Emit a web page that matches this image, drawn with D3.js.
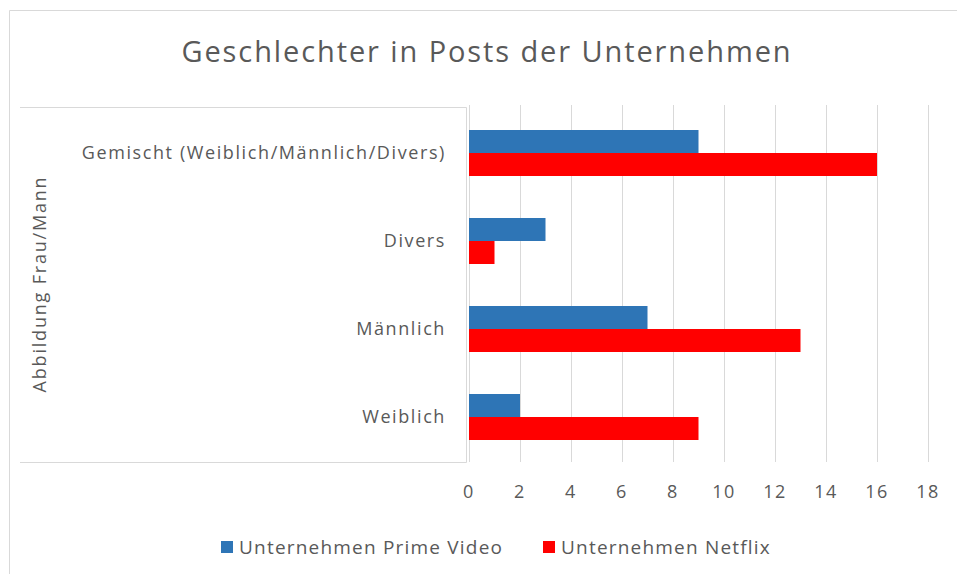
<!DOCTYPE html>
<html>
<head>
<meta charset="utf-8">
<script src="https://cdn.jsdelivr.net/npm/d3@7"></script>
<style>
  body { margin: 0; background: #fff; }
  svg text { font-family: "Open Sans", "Noto Sans", sans-serif; fill: #595959; }
</style>
</head>
<body>
<svg id="canvas" width="957" height="574"></svg>
<script>
let categories = ["Gemischt (Weiblich/Männlich/Divers)", "Divers", "Männlich", "Weiblich"]
let primeValues = [9, 3, 7, 2]
let netflixValues = [16, 1, 13, 9]
let seriesNames = ["Unternehmen Prime Video", "Unternehmen Netflix"]
let seriesColors = ["#2e75b6", "#ff0000"]
let xTicks = [0, 2, 4, 6, 8, 10, 12, 14, 16, 18]

let canvas = d3.select('#canvas')

// outer frame (top + left only visible)
canvas.append('path')
  .attr('d', 'M9.5,574 L9.5,10.5 L957,10.5')
  .attr('fill', 'none')
  .attr('stroke', '#d9d9d9')

// inner box around the category labels
canvas.append('path')
  .attr('d', 'M20,107.5 L466.5,107.5 L466.5,462.5 L20,462.5')
  .attr('fill', 'none')
  .attr('stroke', '#d9d9d9')

var x = d3.scaleLinear().domain([0, 18]).range([469, 928])
var y = d3.scaleBand().domain(categories).range([109, 461])
var inner = d3.scaleBand().domain([0, 1]).range([0, 46])

let plot = canvas.append('g')

// gridlines
plot.selectAll('line.grid')
  .data(xTicks)
  .enter()
  .append('line')
  .attr('class', 'grid')
  .attr('x1', d => Math.round(x(d)) + 0.5)
  .attr('x2', d => Math.round(x(d)) + 0.5)
  .attr('y1', 105)
  .attr('y2', 462)
  .attr('stroke', '#d9d9d9')

let rows = categories.map((c, i) => ({cat: c, vals: [primeValues[i], netflixValues[i]]}))

let groups = plot.selectAll('g.row')
  .data(rows)
  .enter()
  .append('g')
  .attr('class', 'row')
  .attr('transform', d => 'translate(0,' + (y(d.cat) + y.bandwidth() / 2 - 23) + ')')

groups.selectAll('rect')
  .data(d => d.vals)
  .enter()
  .append('rect')
  .attr('x', x(0))
  .attr('y', (d, i) => inner(i))
  .attr('width', d => x(d) - x(0))
  .attr('height', inner.bandwidth())
  .attr('fill', (d, i) => seriesColors[i])

// category labels
canvas.selectAll('text.cat')
  .data(categories)
  .enter()
  .append('text')
  .attr('class', 'cat')
  .attr('x', 446)
  .attr('y', d => y(d) + y.bandwidth() / 2)
  .attr('dy', '0.35em')
  .attr('text-anchor', 'end')
  .style('font-size', '18px')
  .style('letter-spacing', '1.6px')
  .text(d => d)

// x tick labels
canvas.selectAll('text.tick')
  .data(xTicks)
  .enter()
  .append('text')
  .attr('class', 'tick')
  .attr('x', d => x(d))
  .attr('y', 492)
  .attr('dy', '0.35em')
  .attr('text-anchor', 'middle')
  .style('font-size', '18px')
  .style('letter-spacing', '1.5px')
  .text(d => d)

// title
canvas.append('text')
  .attr('x', 487)
  .attr('y', 52)
  .attr('dy', '0.35em')
  .attr('text-anchor', 'middle')
  .style('font-size', '29px')
  .style('letter-spacing', '1.9px')
  .text('Geschlechter in Posts der Unternehmen')

// y axis title
canvas.append('text')
  .attr('transform', 'translate(40,284) rotate(-90)')
  .attr('dy', '0.35em')
  .attr('text-anchor', 'middle')
  .style('font-size', '18px')
  .style('letter-spacing', '1.8px')
  .text('Abbildung Frau/Mann')

// legend
let legendX = [221, 543]
let legend = canvas.selectAll('g.legend')
  .data(seriesNames)
  .enter()
  .append('g')
  .attr('class', 'legend')
  .attr('transform', (d, i) => 'translate(' + legendX[i] + ',547)')

legend.append('rect')
  .attr('x', 0)
  .attr('y', -6)
  .attr('width', 12)
  .attr('height', 12)
  .attr('fill', (d, i) => seriesColors[i])

legend.append('text')
  .attr('x', 18)
  .attr('y', 0)
  .attr('dy', '0.35em')
  .style('font-size', '19px')
  .style('letter-spacing', '1.2px')
  .text(d => d)
</script>
</body>
</html>
